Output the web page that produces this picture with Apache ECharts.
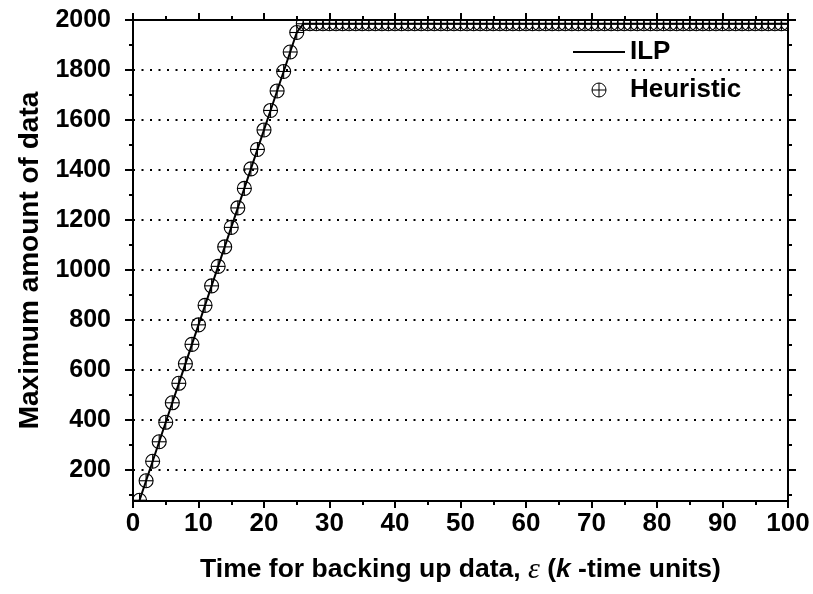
<!DOCTYPE html>
<html>
<head>
<meta charset="utf-8">
<script src="https://cdn.jsdelivr.net/npm/echarts@6/dist/echarts.min.js"></script>
<style>
  html, body { margin: 0; padding: 0; background: #fff; }
  #chart { width: 813px; height: 594px; }
</style>
</head>
<body>
<div id="chart"></div>
<script>
// Backup time epsilon (k-time units)
const epsilon = [
  1, 2, 3, 4, 5, 6, 7, 8, 9, 10, 11, 12, 13, 14, 15, 16, 17, 18, 19, 20,
  21, 22, 23, 24, 25, 26, 27, 28, 29, 30, 31, 32, 33, 34, 35, 36, 37, 38, 39, 40,
  41, 42, 43, 44, 45, 46, 47, 48, 49, 50, 51, 52, 53, 54, 55, 56, 57, 58, 59, 60,
  61, 62, 63, 64, 65, 66, 67, 68, 69, 70, 71, 72, 73, 74, 75, 76, 77, 78, 79, 80,
  81, 82, 83, 84, 85, 86, 87, 88, 89, 90, 91, 92, 93, 94, 95, 96, 97, 98, 99, 100
];

// Maximum amount of data, ILP solution
const ilpValues = [
  78, 156, 234, 312, 390, 468, 546, 624, 702, 780, 858, 936, 1014, 1092, 1170, 1248, 1326, 1404, 1482, 1560,
  1638, 1716, 1794, 1872, 1950, 1985, 1985, 1985, 1985, 1985, 1985, 1985, 1985, 1985, 1985, 1985, 1985, 1985, 1985, 1985,
  1985, 1985, 1985, 1985, 1985, 1985, 1985, 1985, 1985, 1985, 1985, 1985, 1985, 1985, 1985, 1985, 1985, 1985, 1985, 1985,
  1985, 1985, 1985, 1985, 1985, 1985, 1985, 1985, 1985, 1985, 1985, 1985, 1985, 1985, 1985, 1985, 1985, 1985, 1985, 1985,
  1985, 1985, 1985, 1985, 1985, 1985, 1985, 1985, 1985, 1985, 1985, 1985, 1985, 1985, 1985, 1985, 1985, 1985, 1985, 1985
];

// Maximum amount of data, heuristic solution
const heuristicValues = [
  78, 156, 234, 312, 390, 468, 546, 624, 702, 780, 858, 936, 1014, 1092, 1170, 1248, 1326, 1404, 1482, 1560,
  1638, 1716, 1794, 1872, 1950, 1985, 1985, 1985, 1985, 1985, 1985, 1985, 1985, 1985, 1985, 1985, 1985, 1985, 1985, 1985,
  1985, 1985, 1985, 1985, 1985, 1985, 1985, 1985, 1985, 1985, 1985, 1985, 1985, 1985, 1985, 1985, 1985, 1985, 1985, 1985,
  1985, 1985, 1985, 1985, 1985, 1985, 1985, 1985, 1985, 1985, 1985, 1985, 1985, 1985, 1985, 1985, 1985, 1985, 1985, 1985,
  1985, 1985, 1985, 1985, 1985, 1985, 1985, 1985, 1985, 1985, 1985, 1985, 1985, 1985, 1985, 1985, 1985, 1985, 1985, 1985
];

// Axis ticks
const yMajorTicks = [200, 400, 600, 800, 1000, 1200, 1400, 1600, 1800, 2000];
const yMinorTicks = [100, 300, 500, 700, 900, 1100, 1300, 1500, 1700, 1900];
const yGridLines = [200, 400, 600, 800, 1000, 1200, 1400, 1600, 1800];
const yRange = [75, 2000];
const xRange = [0, 100];

const FONT = '"Liberation Sans", Arial, sans-serif';
const BLACK = '#000';

// circle with a cross inside
const oplusPath = 'path://M10,0 A10,10 0 1,1 -10,0 A10,10 0 1,1 10,0 Z M-10,0 L10,0 M0,-10 L0,10';
// plain line sample for the ILP legend entry
const linePath = 'path://M0,0 L52,0 L52,2 L0,2 Z';

const xAxisBase = {
  type: 'value',
  min: xRange[0],
  max: xRange[1],
  interval: 10,
  axisLine: { show: true, onZero: false, lineStyle: { color: BLACK, width: 2 } },
  axisTick: { show: true, inside: false, length: 7, lineStyle: { color: BLACK, width: 2 } },
  minorTick: { show: true, splitNumber: 2, length: 4, lineStyle: { color: BLACK, width: 2 } },
  splitLine: { show: false },
  minorSplitLine: { show: false }
};

function yAxisDef(position, ticks, len, withLabels) {
  return {
    type: 'value',
    position: position,
    min: yRange[0],
    max: yRange[1],
    axisLine: { show: true, onZero: false, lineStyle: { color: BLACK, width: 2 } },
    axisTick: { show: true, inside: false, length: len, customValues: ticks, lineStyle: { color: BLACK, width: 2 } },
    axisLabel: withLabels ? {
      show: true, customValues: ticks, margin: 22,
      formatter: v => String(v),
      color: BLACK, fontFamily: FONT, fontWeight: 'bold', fontSize: 25
    } : { show: false },
    splitLine: { show: false }
  };
}

const xData = epsilon.map((e, i) => [e, ilpValues[i]]);
const hData = epsilon.map((e, i) => [e, heuristicValues[i]]);

const chart = echarts.init(document.getElementById('chart'), null, { renderer: 'canvas' });

chart.setOption({
  animation: false,
  backgroundColor: '#fff',
  grid: { left: 133, right: 25, top: 20, bottom: 93, containLabel: false },
  legend: {
    orient: 'vertical',
    left: 568,
    top: 34,
    padding: 5,
    itemWidth: 52,
    itemHeight: 14,
    itemGap: 12,
    textStyle: { color: BLACK, fontFamily: FONT, fontWeight: 'bold', fontSize: 26 },
    data: [
      { name: 'ILP', icon: linePath, itemStyle: { color: BLACK, borderWidth: 0 } },
      { name: 'Heuristic', icon: oplusPath, itemStyle: { color: 'transparent', borderColor: BLACK, borderWidth: 1 } }
    ]
  },
  xAxis: [
    Object.assign({}, xAxisBase, {
      position: 'bottom',
      axisLabel: { show: true, margin: 10, color: BLACK, fontFamily: FONT, fontWeight: 'bold', fontSize: 26 },
      name: '{a|Time for backing up data, }{e|ε}{a| (}{k|k}{a| -time units)}',
      nameLocation: 'middle',
      nameGap: 54,
      nameTextStyle: {
        rich: {
          a: { color: BLACK, fontFamily: FONT, fontWeight: 'bold', fontSize: 26.5 },
          e: { color: BLACK, fontFamily: '"Liberation Serif", serif', fontStyle: 'italic', fontSize: 30 },
          k: { color: BLACK, fontFamily: FONT, fontStyle: 'italic', fontWeight: 'bold', fontSize: 26.5 }
        }
      }
    }),
    Object.assign({}, xAxisBase, { position: 'top', axisLabel: { show: false } })
  ],
  yAxis: [
    Object.assign(yAxisDef('left', yMajorTicks, 8, true), {
      name: 'Maximum amount of data',
      nameLocation: 'middle',
      nameRotate: 90,
      nameGap: 89,
      nameTextStyle: { color: BLACK, fontFamily: FONT, fontWeight: 'bold', fontSize: 28 }
    }),
    yAxisDef('left', yMinorTicks, 4, false),
    yAxisDef('right', yMajorTicks, 8, false),
    yAxisDef('right', yMinorTicks, 4, false)
  ],
  series: [
    {
      name: 'ILP',
      type: 'line',
      xAxisIndex: 0,
      yAxisIndex: 0,
      data: xData,
      symbol: 'none',
      clip: true,
      lineStyle: { color: BLACK, width: 2 },
      itemStyle: { color: BLACK },
      z: 3,
      markLine: {
        silent: true,
        symbol: 'none',
        label: { show: false },
        lineStyle: { color: BLACK, width: 2, type: [2, 6.5] },
        data: yGridLines.map(v => ({ yAxis: v }))
      }
    },
    {
      name: 'Heuristic',
      type: 'custom',
      xAxisIndex: 0,
      yAxisIndex: 0,
      clip: true,
      data: hData,
      itemStyle: { color: 'transparent', borderColor: BLACK, borderWidth: 1 },
      z: 4,
      renderItem: function (params, api) {
        const p = api.coord([api.value(0), api.value(1)]);
        const r = 7;
        const st = { fill: null, stroke: BLACK, lineWidth: 1.1 };
        return {
          type: 'group',
          children: [
            { type: 'circle', shape: { cx: p[0], cy: p[1], r: r }, style: st },
            { type: 'line', shape: { x1: p[0] - r, y1: p[1], x2: p[0] + r, y2: p[1] }, style: st },
            { type: 'line', shape: { x1: p[0], y1: p[1] - r, x2: p[0], y2: p[1] + r }, style: st }
          ]
        };
      }
    }
  ]
});
</script>
</body>
</html>
